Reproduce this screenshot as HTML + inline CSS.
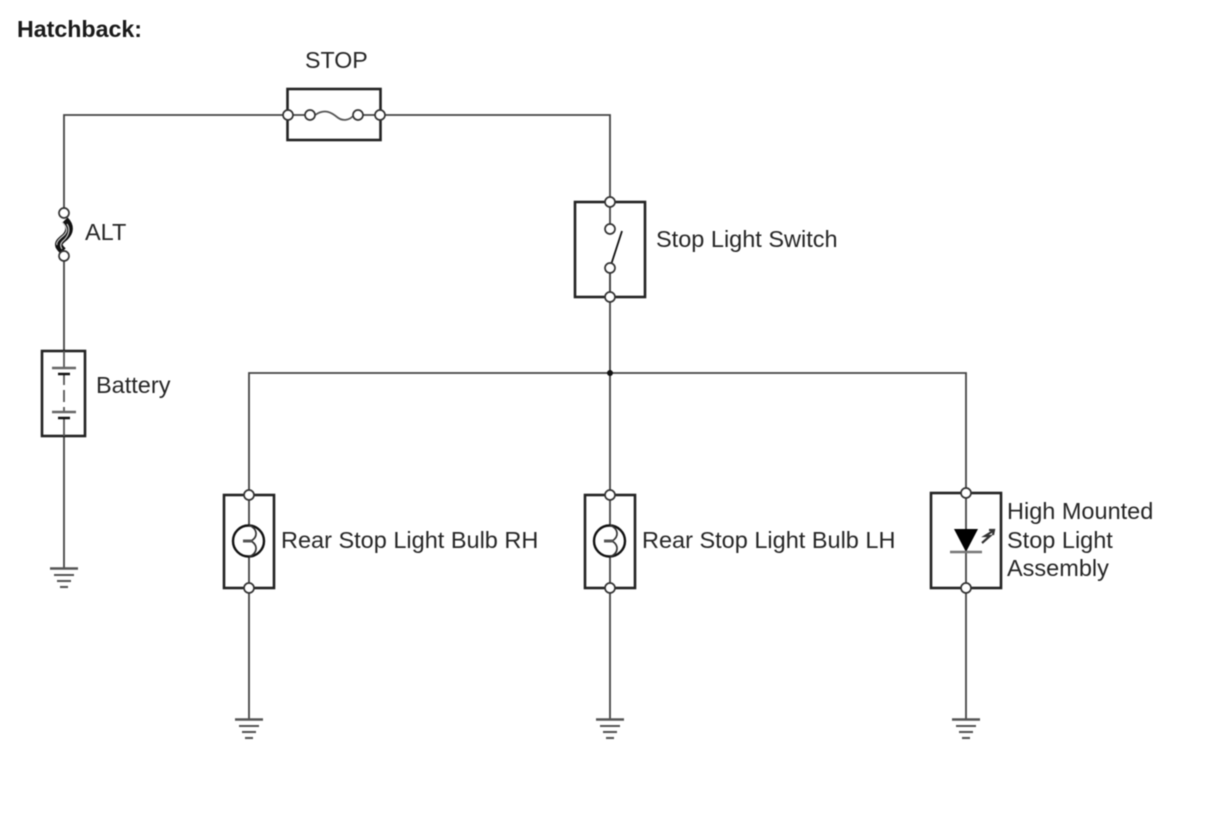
<!DOCTYPE html>
<html><head><meta charset="utf-8"><style>
html,body{margin:0;padding:0;background:#fff}
svg{display:block;filter:blur(0.5px)}
text{font-family:"Liberation Sans",sans-serif;font-size:23.5px;fill:#262626}
</style></head><body>
<svg width="1210" height="814" viewBox="0 0 1210 814" xmlns="http://www.w3.org/2000/svg">
<rect width="1210" height="814" fill="#fff"/>
<text x="17" y="37" style="font-weight:bold;fill:#1a1a1a;font-size:23.2px">Hatchback:</text>
<text x="305" y="68" style="font-size:23.2px">STOP</text>
<text x="85" y="240">ALT</text>
<text x="96" y="393">Battery</text>
<text x="656" y="247">Stop Light Switch</text>
<text x="281" y="548">Rear Stop Light Bulb RH</text>
<text x="642" y="548">Rear Stop Light Bulb LH</text>
<text x="1007" y="519">High Mounted</text>
<text x="1007" y="548">Stop Light</text>
<text x="1007" y="576">Assembly</text>

<g fill="none" stroke="#444" stroke-width="1.8">
<path d="M288 115H64V213M64 256V351M64 436V568"/>
<path d="M380 115H610V202M610 202V229M610 268V373"/>
<path d="M249 495V373H966V493"/>
<path d="M610 373V495"/>
<path d="M249 495V720M610 495V720M966 493V720"/>
</g>
<circle cx="610" cy="373" r="3" fill="#111"/>

<!-- boxes -->
<g fill="none" stroke="#222" stroke-width="2.600">
<rect x="287.500" y="89" width="93" height="51"/>
<rect x="42" y="351" width="43" height="85"/>
<rect x="575" y="202" width="70" height="95"/>
<rect x="224" y="495" width="50" height="93"/>
<rect x="585" y="495" width="50" height="93"/>
<rect x="931" y="493" width="70" height="95"/>
</g>

<!-- fuse -->
<rect x="300" y="100" width="70" height="30" fill="#fff"/>
<path d="M288 115H310M380 115H358" stroke="#444" stroke-width="1.800" fill="none"/>
<path d="M315 115C325 108 332 113 337 117C343 122 350 120 354 115" stroke="#555" stroke-width="1.800" fill="none"/>

<!-- ALT fusible link -->
<path d="M65 220C71 226 70 232 65 237C60 241 58 243 59 246C60 248 62 250 63 251" stroke="#111" stroke-width="7.500" fill="none"/>
<path d="M62 222C68 228 68 232 63 236C58 240 56 243 57 245" stroke="#ccc" stroke-width="1.200" fill="none"/>
<path d="M67 224C71 230 68 236 64 240C60 243 60 246 62 249" stroke="#ccc" stroke-width="1.200" fill="none"/>

<!-- battery -->
<g stroke-linecap="butt" fill="none">
<path d="M64 374V385M64 390V402M64 407V412M64 418V436M64 351V368" stroke="#555" stroke-width="1.800"/>
<path d="M52 368H76M52 412H76" stroke="#666" stroke-width="2.400"/>
<path d="M58 374H70M58 418H70" stroke="#111" stroke-width="2.400"/>
</g>

<!-- switch -->
<path d="M610 268L622 231" stroke="#111" stroke-width="1.800" fill="none"/>
<path d="M610 272V297" stroke="#444" stroke-width="1.800"/>

<!-- bulbs -->
<circle cx="248.500" cy="541" r="15.500" fill="#fff" stroke="#111" stroke-width="2.400"/>
<path d="M249 525C258 529 258 537 251 541C258 545 258 553 249 557" stroke="#333" stroke-width="1.700" fill="none"/>
<path d="M243 541H252" stroke="#555" stroke-width="3"/>
<circle cx="609.500" cy="541" r="15.500" fill="#fff" stroke="#111" stroke-width="2.400"/>
<path d="M610 525C619 529 619 537 612 541C619 545 619 553 610 557" stroke="#333" stroke-width="1.700" fill="none"/>
<path d="M604 541H613" stroke="#555" stroke-width="3"/>

<!-- LED -->
<polygon points="954,529 978,529 966,552" fill="#000"/>
<path d="M950 552H982" stroke="#777" stroke-width="2.600"/>
<path d="M993 531L985 536H990L982 543M989 530L994 530L993 535" stroke="#333" stroke-width="2.200" fill="none"/>

<!-- grounds -->
<g stroke="#555" fill="none">
<g><path d="M50 568.500H78" stroke-width="2.500"/><path d="M54 575H74" stroke-width="2.100"/><path d="M57 581H71" stroke-width="2.100"/><path d="M60 587H68" stroke-width="2.100"/></g>
<g transform="translate(185,151)"><path d="M50 568.500H78" stroke-width="2.500"/><path d="M54 575H74" stroke-width="2.100"/><path d="M57 581H71" stroke-width="2.100"/><path d="M60 587H68" stroke-width="2.100"/></g>
<g transform="translate(546,151)"><path d="M50 568.500H78" stroke-width="2.500"/><path d="M54 575H74" stroke-width="2.100"/><path d="M57 581H71" stroke-width="2.100"/><path d="M60 587H68" stroke-width="2.100"/></g>
<g transform="translate(902,151)"><path d="M50 568.500H78" stroke-width="2.500"/><path d="M54 575H74" stroke-width="2.100"/><path d="M57 581H71" stroke-width="2.100"/><path d="M60 587H68" stroke-width="2.100"/></g>
</g>

<!-- terminals -->
<g fill="#fff" stroke="#333" stroke-width="1.700">
<circle cx="288" cy="115" r="5"/><circle cx="380" cy="115" r="5"/>
<circle cx="310" cy="115" r="5"/><circle cx="358" cy="115" r="5"/>
<circle cx="64" cy="213" r="5"/><circle cx="64" cy="256" r="5"/>
<circle cx="610" cy="202" r="5"/><circle cx="610" cy="229" r="5"/><circle cx="610" cy="268" r="5"/><circle cx="610" cy="297" r="5"/>
<circle cx="249" cy="495" r="5"/><circle cx="249" cy="588" r="5"/>
<circle cx="610" cy="495" r="5"/><circle cx="610" cy="588" r="5"/>
<circle cx="966" cy="493" r="5"/><circle cx="966" cy="588" r="5"/>
</g>
</svg>
</body></html>
